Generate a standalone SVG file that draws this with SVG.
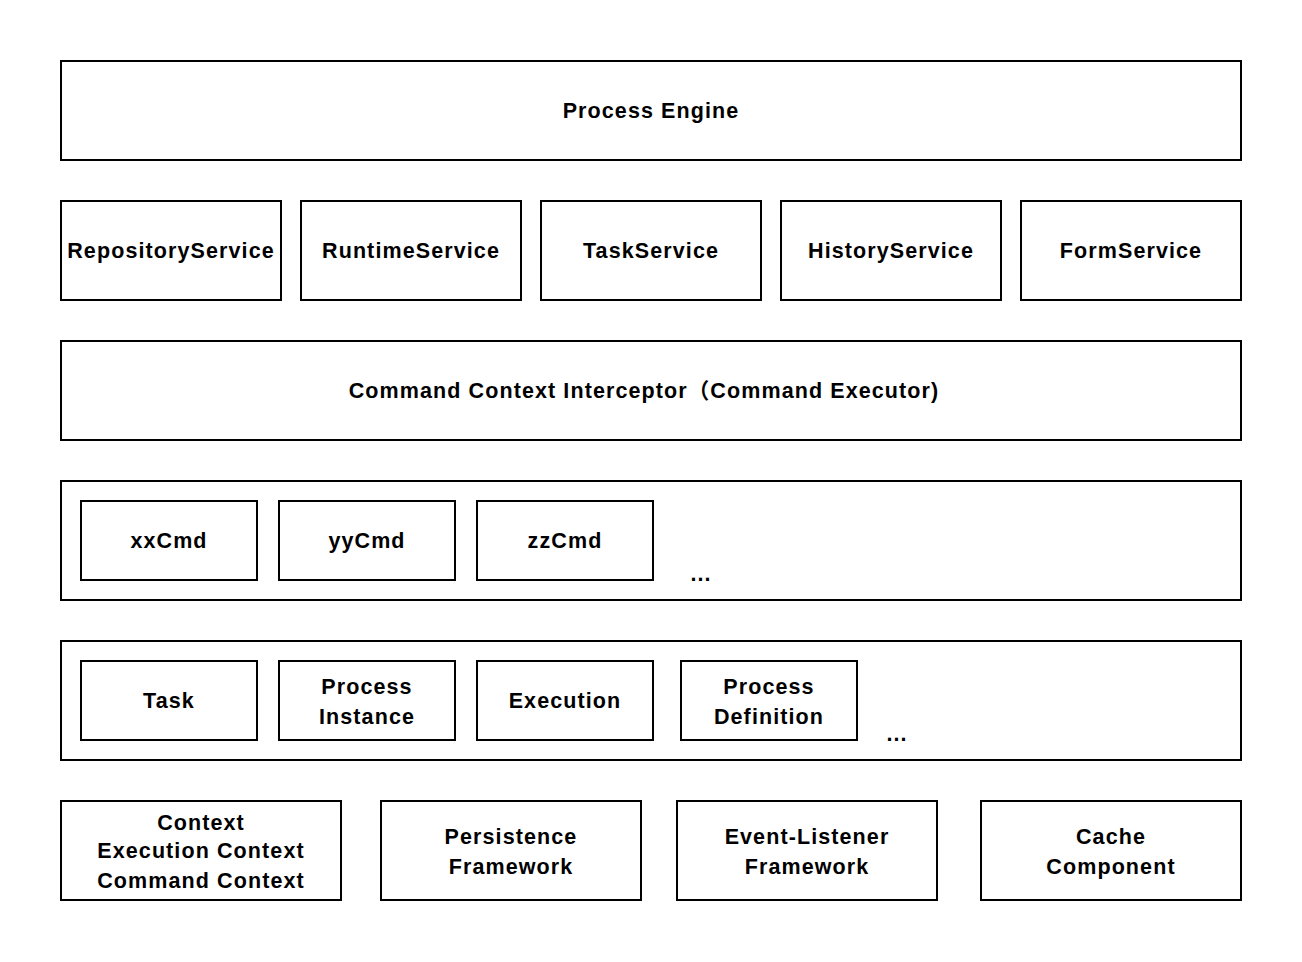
<svg xmlns="http://www.w3.org/2000/svg" width="1302" height="962" viewBox="0 0 1302 962">
<style>
rect{fill:#fff;stroke:#000;stroke-width:2}
text{font-family:"Liberation Sans",Arial,"Noto Sans CJK SC",sans-serif;font-weight:bold;font-size:21.5px;letter-spacing:1.1px;fill:#000;text-anchor:middle}
</style>
<rect x="0" y="0" width="1302" height="962" style="stroke:none"/>
<g id="process-engine"><rect x="61" y="61" width="1180" height="99"/><text x="651" y="118">Process Engine</text></g>
<g id="repository-service"><rect x="61" y="201" width="220" height="99"/><text x="171" y="258">RepositoryService</text></g>
<g id="runtime-service"><rect x="301" y="201" width="220" height="99"/><text x="411" y="258">RuntimeService</text></g>
<g id="task-service"><rect x="541" y="201" width="220" height="99"/><text x="651" y="258">TaskService</text></g>
<g id="history-service"><rect x="781" y="201" width="220" height="99"/><text x="891" y="258">HistoryService</text></g>
<g id="form-service"><rect x="1021" y="201" width="220" height="99"/><text x="1131" y="258">FormService</text></g>
<g id="command-interceptor"><rect x="61" y="341" width="1180" height="99"/><text x="644" y="398">Command Context Interceptor（Command Executor)</text></g>
<g id="commands"><rect x="61" y="481" width="1180" height="119"/><text x="701" y="581">...</text></g>
<g id="xxcmd"><rect x="81" y="501" width="176" height="79"/><text x="169" y="548">xxCmd</text></g>
<g id="yycmd"><rect x="279" y="501" width="176" height="79"/><text x="367" y="548">yyCmd</text></g>
<g id="zzcmd"><rect x="477" y="501" width="176" height="79"/><text x="565" y="548">zzCmd</text></g>
<g id="entities"><rect x="61" y="641" width="1180" height="119"/><text x="897" y="741">...</text></g>
<g id="task"><rect x="81" y="661" width="176" height="79"/><text x="169" y="708">Task</text></g>
<g id="process-instance"><rect x="279" y="661" width="176" height="79"/><text x="367" y="694">Process</text><text x="367" y="724">Instance</text></g>
<g id="execution"><rect x="477" y="661" width="176" height="79"/><text x="565" y="708">Execution</text></g>
<g id="process-definition"><rect x="681" y="661" width="176" height="79"/><text x="769" y="694">Process</text><text x="769" y="724">Definition</text></g>
<g id="context"><rect x="61" y="801" width="280" height="99"/><text x="201" y="830">Context</text><text x="201" y="858">Execution Context</text><text x="201" y="888">Command Context</text></g>
<g id="persistence"><rect x="381" y="801" width="260" height="99"/><text x="511" y="844">Persistence</text><text x="511" y="874">Framework</text></g>
<g id="event-listener"><rect x="677" y="801" width="260" height="99"/><text x="807" y="844">Event-Listener</text><text x="807" y="874">Framework</text></g>
<g id="cache"><rect x="981" y="801" width="260" height="99"/><text x="1111" y="844">Cache</text><text x="1111" y="874">Component</text></g>
<g id="connectors"></g>
</svg>
